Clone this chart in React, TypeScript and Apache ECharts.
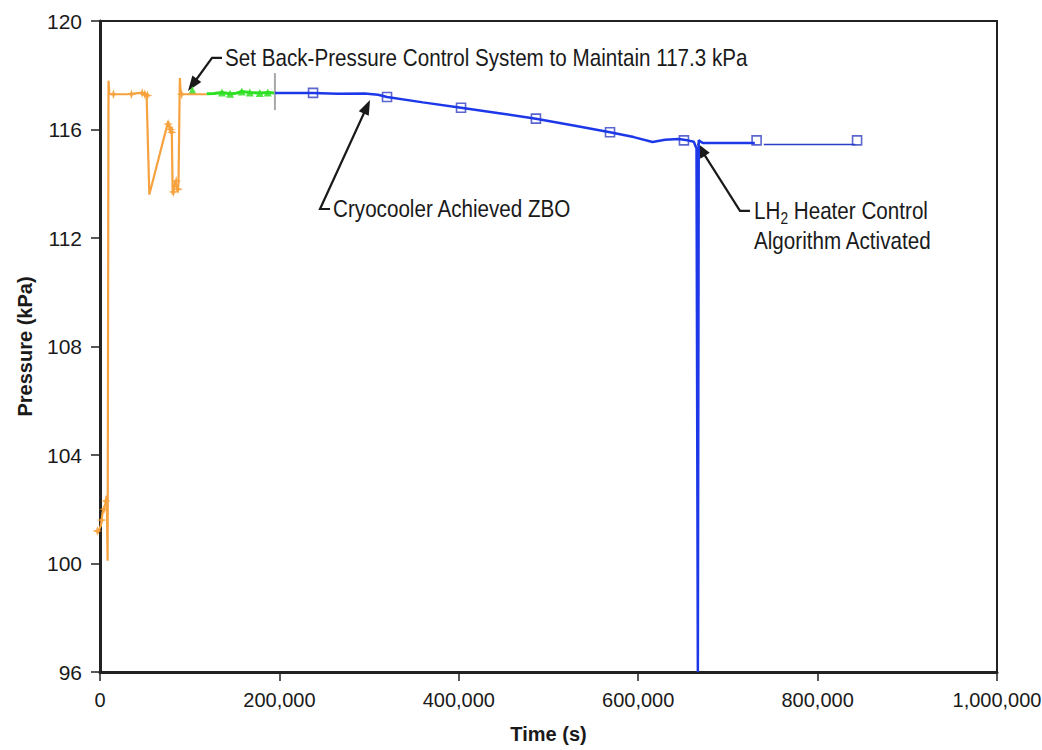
import React, { useEffect, useRef } from "react";
import * as echarts from "echarts";

const FONT = "'Liberation Sans', Arial, sans-serif";

// Orange: initial fill / pressurization phase
const orangeTime = [-3000, 1000, 3000, 6000, 7500, 8500, 9500, 10500, 30000, 45000, 50000, 52000, 55000, 76000, 78000, 80000, 81000, 84000, 86500, 87500, 89000, 90000, 100000, 119000];
const orangePressure = [101.1, 101.4, 101.9, 102.2, 102.5, 100.1, 117.8, 117.3, 117.3, 117.35, 117.3, 117.2, 113.6, 116.3, 116.0, 116.1, 113.6, 114.1, 113.7, 114.0, 117.9, 117.3, 117.3, 117.3];
const orangeMarkTime = [-3000, 2000, 4500, 6500, 15000, 35000, 47000, 50000, 53000, 76000, 78500, 80000, 82000, 85000, 87000, 91000];
const orangeMarkPressure = [101.2, 101.6, 102.0, 102.3, 117.3, 117.3, 117.35, 117.3, 117.25, 116.2, 116.0, 115.9, 113.7, 114.1, 113.8, 117.3];

// Green: back-pressure control
const greenTime = [119000, 127000, 136000, 145000, 152000, 158000, 167000, 178000, 187000, 195000];
const greenPressure = [117.32, 117.33, 117.36, 117.32, 117.34, 117.4, 117.36, 117.35, 117.36, 117.35];
const greenMarkTime = [103000, 136000, 145000, 158000, 167000, 178000, 187000];
const greenMarkPressure = [117.45, 117.36, 117.32, 117.4, 117.36, 117.35, 117.36];

// Gray transition marker
const grayTime = [195000, 195000];
const grayPressure = [118.08, 116.72];

// Blue: cryocooler ZBO phase
const blueTime = [195000, 237500, 265000, 295000, 310000, 320000, 360000, 402500, 445000, 486000, 528000, 568600, 595000, 616000, 630000, 645000, 655000, 662000, 665000, 666500, 667500, 672000, 700000, 730000];
const bluePressure = [117.35, 117.35, 117.32, 117.33, 117.28, 117.2, 117.0, 116.8, 116.6, 116.4, 116.15, 115.9, 115.72, 115.54, 115.62, 115.65, 115.6, 115.55, 115.3, 96, 115.6, 115.5, 115.5, 115.5];
const blueTailTime = [740000, 842000];
const blueTailPressure = [115.45, 115.45];
const squareTime = [237500, 320000, 402500, 486000, 568600, 651000, 732000, 844000];
const squarePressure = [117.35, 117.2, 116.8, 116.4, 115.9, 115.6, 115.6, 115.6];

const xTicks = [0, 200000, 400000, 600000, 800000, 1000000];
const yTicks = [96, 100, 104, 108, 112, 116, 120];

// Annotations: tip, elbow, dash end, text anchor (data coords)
const annotations = [
  { tip: [98100, 117.42], elbow: [124900, 118.64], dash: [136000, 118.64], text: [139400, 118.64], label: "Set Back-Pressure Control System to Maintain 117.3 kPa" },
  { tip: [301000, 117.09], elbow: [245300, 113.07], dash: [256400, 113.07], text: [259800, 113.07], label: "Cryocooler Achieved ZBO" },
  { tip: [665600, 115.5], elbow: [713500, 113.0], dash: [724600, 113.0], text: [729100, 113.0], label: "LH{sub|2} Heater Control\nAlgorithm Activated" },
];

const zip = (a: number[], b: number[]) => a.map((v, i) => [v, b[i]]);

export default function App() {
  const ref = useRef<HTMLDivElement>(null);
  useEffect(() => {
    if (!ref.current) return;
    const chart = echarts.init(ref.current, null, { renderer: "svg" });
    const starPath = "path://M5,0L6.2,3.8L10,5L6.2,6.2L5,10L3.8,6.2L0,5L3.8,3.8Z";
    chart.setOption({
      animation: false,
      backgroundColor: "#fff",
      grid: { left: 100, right: 45, top: 21, bottom: 78, show: true, borderColor: "#222", borderWidth: 2, containLabel: false, outerBoundsMode: "none" },
      xAxis: {
        type: "value",
        min: xTicks[0],
        max: xTicks[xTicks.length - 1],
        interval: 200000,
        name: "Time (s)",
        nameLocation: "middle",
        nameGap: 52,
        nameTextStyle: { fontFamily: FONT, fontWeight: "bold", fontSize: 20, color: "#1a1a1a" },
        axisLine: { show: true, lineStyle: { color: "#222", width: 3 } },
        axisTick: { show: true, inside: false, length: 9, lineStyle: { color: "#222", width: 1.5 } },
        axisLabel: { fontFamily: FONT, fontSize: 20, color: "#1a1a1a", margin: 18, formatter: (v: number) => v.toLocaleString("en-US") },
        splitLine: { show: false },
      },
      yAxis: {
        type: "value",
        min: yTicks[0],
        max: yTicks[yTicks.length - 1],
        interval: 4,
        name: "Pressure (kPa)",
        nameLocation: "middle",
        nameGap: 65,
        nameRotate: 90,
        nameTextStyle: { fontFamily: FONT, fontWeight: "bold", fontSize: 20, color: "#1a1a1a" },
        axisLine: { show: true, lineStyle: { color: "#222", width: 3 } },
        axisTick: { show: true, inside: false, length: 9, lineStyle: { color: "#222", width: 1.5 } },
        axisLabel: { fontFamily: FONT, fontSize: 21, color: "#1a1a1a", margin: 18 },
        splitLine: { show: false },
      },
      series: [
        {
          type: "line", name: "orange", data: zip(orangeTime, orangePressure), symbol: "none", clip: false,
          lineStyle: { color: "#f5a23f", width: 2.2 },
        },
        {
          type: "scatter", name: "orangeMarks", data: zip(orangeMarkTime, orangeMarkPressure), symbol: starPath, symbolSize: 10, clip: false,
          itemStyle: { color: "#f7941d" },
        },
        {
          type: "line", name: "green", data: zip(greenTime, greenPressure), symbol: "none",
          lineStyle: { color: "#2ee024", width: 3 },
        },
        {
          type: "scatter", name: "greenMarks", data: zip(greenMarkTime, greenMarkPressure), symbol: "triangle", symbolSize: 8,
          itemStyle: { color: "#3fe030", opacity: 0.9 },
        },
        {
          type: "line", name: "gray", data: zip(grayTime, grayPressure), symbol: "none",
          lineStyle: { color: "#a8a8a8", width: 2 },
        },
        {
          type: "line", name: "blue", data: zip(blueTime, bluePressure), symbol: "none",
          lineStyle: { color: "#1d38e8", width: 2.5 },
        },
        {
          type: "line", name: "blueTail", data: zip(blueTailTime, blueTailPressure), symbol: "none",
          lineStyle: { color: "#2a3cc8", width: 1.5 },
        },
        {
          type: "scatter", name: "squares", data: zip(squareTime, squarePressure), symbol: "rect", symbolSize: 9,
          itemStyle: { color: "rgba(255,255,255,0.6)", borderColor: "#3140c0", borderWidth: 1.6 },
        },
      ],
    });

    const px = (p: number[]) => chart.convertToPixel({ gridIndex: 0 }, p) as number[];
    const graphics: any[] = [];
    annotations.forEach((a) => {
      const tip = px(a.tip), elbow = px(a.elbow), dash = px(a.dash), txt = px(a.text);
      const dx = tip[0] - elbow[0], dy = tip[1] - elbow[1];
      const len = Math.hypot(dx, dy);
      const ux = dx / len, uy = dy / len;
      const hl = 15, hw = 5.5;
      const base = [tip[0] - ux * hl, tip[1] - uy * hl];
      graphics.push({
        type: "polyline", silent: true,
        shape: { points: [dash, elbow, [tip[0] - ux * 8, tip[1] - uy * 8]] },
        style: { stroke: "#1a1a1a", lineWidth: 2.2, fill: null },
      });
      graphics.push({
        type: "polygon", silent: true,
        shape: { points: [tip, [base[0] - uy * hw, base[1] + ux * hw], [base[0] + uy * hw, base[1] - ux * hw]] },
        style: { fill: "#1a1a1a" },
      });
      const multi = a.label.includes("\n");
      graphics.push({
        type: "text", silent: true,
        x: txt[0], y: multi ? txt[1] - 15 : txt[1],
        scaleX: 0.86,
        style: {
          text: a.label,
          fontFamily: FONT, fontSize: 24, fill: "#1a1a1a",
          align: "left", verticalAlign: multi ? "top" : "middle",
          lineHeight: 30,
          rich: { sub: { fontFamily: FONT, fontSize: 16, verticalAlign: "bottom", lineHeight: 30, padding: [10, 0, 0, 0] } },
        },
      });
    });
    chart.setOption({ graphic: graphics });

    return () => chart.dispose();
  }, []);
  return <div ref={ref} style={{ position: "absolute", left: 0, top: 0, width: 1042, height: 750 }} />;
}
